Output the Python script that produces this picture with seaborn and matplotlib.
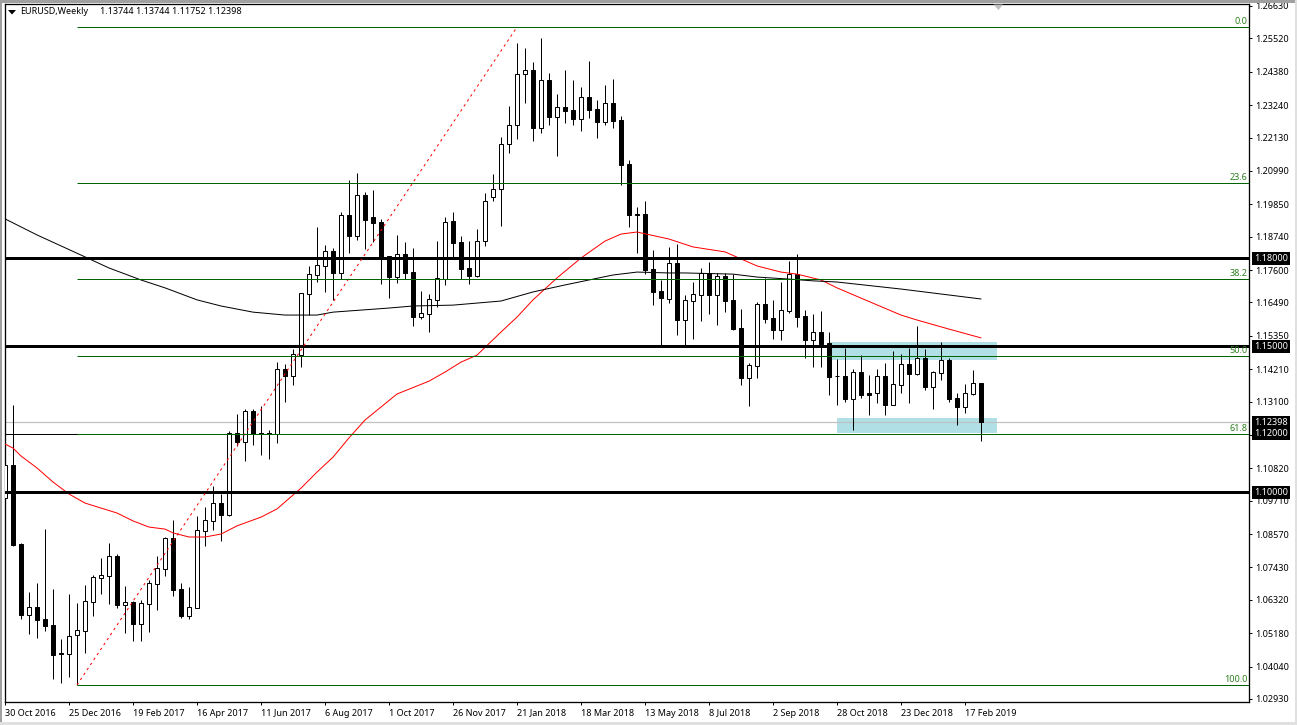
#!/usr/bin/python3
'''
EURUSD weekly candles with moving averages, fibs and levels.
'''

from matplotlib import patches
from matplotlib import pyplot
import numpy
import pandas
import seaborn

opens = [1.0980, 1.1093, 1.0823, 1.0580, 1.0608, 1.0567, 1.0546, 1.0450, 1.0447, 1.0512,
         1.0525, 1.0625, 1.0706, 1.0714, 1.0782, 1.0615, 1.0625, 1.0549, 1.0618, 1.0687,
         1.0737, 1.0844, 1.0669, 1.0577, 1.0604, 1.0868, 1.0902, 1.0963, 1.0922, 1.1203,
         1.1172, 1.1278, 1.1203, 1.1203, 1.1199, 1.1422, 1.1398, 1.1469, 1.1678, 1.1743,
         1.1774, 1.1825, 1.1750, 1.1948, 1.1876, 1.2017, 1.1941, 1.1924, 1.1808, 1.1736,
         1.1815, 1.1753, 1.1599, 1.1609, 1.1658, 1.1729, 1.1928, 1.1856, 1.1767, 1.1740,
         1.1859, 1.2010, 1.2037, 1.2191, 1.2256, 1.2430, 1.2444, 1.2246, 1.2410, 1.2283,
         1.2318, 1.2307, 1.2276, 1.2352, 1.2311, 1.2266, 1.2331, 1.2273, 1.2123, 1.1951,
         1.1951, 1.1763, 1.1688, 1.1661, 1.1784, 1.1589, 1.1654, 1.1675, 1.1750, 1.1675,
         1.1740, 1.1658, 1.1562, 1.1391, 1.1432, 1.1644, 1.1596, 1.1555, 1.1620, 1.1746,
         1.1603, 1.1521, 1.1548, 1.1510, 1.1398, 1.1398, 1.1319, 1.1411, 1.1340, 1.1340,
         1.1398, 1.1298, 1.1367, 1.1439, 1.1404, 1.1459, 1.1360, 1.1408, 1.1452, 1.1322,
         1.1292, 1.1336, 1.13744]
highs = [1.1138, 1.1298, 1.0826, 1.0659, 1.0690, 1.0874, 1.0669, 1.0498, 1.0652, 1.0621,
         1.0683, 1.0717, 1.0775, 1.0826, 1.0789, 1.0680, 1.0628, 1.0632, 1.0700, 1.0782,
         1.0847, 1.0905, 1.0690, 1.0676, 1.0919, 1.0950, 1.1021, 1.0994, 1.1210, 1.1268,
         1.1285, 1.1285, 1.1295, 1.1213, 1.1445, 1.1439, 1.1490, 1.1681, 1.1774, 1.1907,
         1.1846, 1.1835, 1.1958, 1.2068, 1.2092, 1.2027, 1.2034, 1.1934, 1.1808, 1.1880,
         1.1856, 1.1835, 1.1688, 1.1678, 1.1859, 1.1941, 1.1958, 1.1876, 1.1859, 1.1900,
         1.2023, 1.2088, 1.2215, 1.2321, 1.2536, 1.2519, 1.2471, 1.2554, 1.2434, 1.2362,
         1.2444, 1.2410, 1.2386, 1.2475, 1.2342, 1.2393, 1.2413, 1.2287, 1.2136, 1.1976,
         1.1996, 1.1829, 1.1726, 1.1839, 1.1849, 1.1675, 1.1719, 1.1767, 1.1787, 1.1750,
         1.1750, 1.1746, 1.1627, 1.1442, 1.1651, 1.1733, 1.1658, 1.1719, 1.1791, 1.1815,
         1.1623, 1.1609, 1.1620, 1.1548, 1.1456, 1.1493, 1.1422, 1.1469, 1.1401, 1.1422,
         1.1442, 1.1483, 1.1473, 1.1493, 1.1569, 1.1490, 1.1415, 1.1514, 1.1459, 1.1340,
         1.1370, 1.1418, 1.13744]
lows = [1.0932, 1.0816, 1.0567, 1.0515, 1.0502, 1.0525, 1.0361, 1.0348, 1.0368, 1.0341,
        1.0450, 1.0577, 1.0652, 1.0618, 1.0604, 1.0519, 1.0491, 1.0491, 1.0522, 1.0597,
        1.0714, 1.0645, 1.0570, 1.0567, 1.0604, 1.0816, 1.0871, 1.0833, 1.0919, 1.1158,
        1.1107, 1.1162, 1.1127, 1.1113, 1.1168, 1.1309, 1.1367, 1.1428, 1.1606, 1.1719,
        1.1685, 1.1658, 1.1729, 1.1818, 1.1863, 1.1832, 1.1856, 1.1712, 1.1664, 1.1716,
        1.1729, 1.1569, 1.1592, 1.1548, 1.1634, 1.1709, 1.1805, 1.1729, 1.1712, 1.1736,
        1.1842, 1.1996, 1.1911, 1.2160, 1.2208, 1.2331, 1.2201, 1.2229, 1.2256, 1.2150,
        1.2263, 1.2256, 1.2235, 1.2280, 1.2212, 1.2256, 1.2246, 1.2051, 1.1907, 1.1818,
        1.1746, 1.1640, 1.1500, 1.1647, 1.1538, 1.1500, 1.1524, 1.1586, 1.1610, 1.1572,
        1.1616, 1.1555, 1.1367, 1.1295, 1.1391, 1.1579, 1.1524, 1.1521, 1.1613, 1.1565,
        1.1459, 1.1428, 1.1428, 1.1333, 1.1298, 1.1309, 1.1213, 1.1322, 1.1264, 1.1305,
        1.1264, 1.1298, 1.1340, 1.1305, 1.1401, 1.1350, 1.1285, 1.1384, 1.1309, 1.1230,
        1.1271, 1.1333, 1.11752]
closes = [1.1093, 1.0820, 1.0580, 1.0608, 1.0563, 1.0543, 1.0443, 1.0447, 1.0508, 1.0529,
          1.0628, 1.0710, 1.0717, 1.0782, 1.0615, 1.0625, 1.0549, 1.0621, 1.0690, 1.0741,
          1.0844, 1.0666, 1.0577, 1.0608, 1.0871, 1.0905, 1.0963, 1.0922, 1.1203, 1.1172,
          1.1278, 1.1199, 1.1199, 1.1199, 1.1422, 1.1398, 1.1473, 1.1681, 1.1746, 1.1777,
          1.1825, 1.1750, 1.1948, 1.1876, 1.2017, 1.1931, 1.1921, 1.1805, 1.1736, 1.1815,
          1.1750, 1.1599, 1.1613, 1.1661, 1.1733, 1.1924, 1.1852, 1.1763, 1.1740, 1.1859,
          1.1996, 1.2037, 1.2191, 1.2256, 1.2430, 1.2444, 1.2246, 1.2410, 1.2283, 1.2318,
          1.2304, 1.2276, 1.2352, 1.2307, 1.2266, 1.2331, 1.2270, 1.2119, 1.1948, 1.1948,
          1.1760, 1.1685, 1.1664, 1.1784, 1.1589, 1.1658, 1.1678, 1.1750, 1.1675, 1.1740,
          1.1654, 1.1558, 1.1391, 1.1435, 1.1644, 1.1592, 1.1555, 1.1623, 1.1746, 1.1599,
          1.1521, 1.1548, 1.1507, 1.1394, 1.1396, 1.1319, 1.1411, 1.1333, 1.1333, 1.1398,
          1.1298, 1.1370, 1.1439, 1.1404, 1.1459, 1.1360, 1.1411, 1.1452, 1.1319, 1.1292,
          1.1340, 1.1374, 1.12398]

red_ma_weeks = [0, 1, 2, 4, 6, 8, 10, 12, 14, 16, 18, 20, 21, 23, 25, 27, 29, 32, 34, 37,
                39, 41, 43, 45, 49, 53, 55, 57, 59, 62, 64, 66, 69, 72, 75, 77, 79, 83, 86, 90,
                92, 94, 97, 99, 102, 104, 107, 112, 114, 118, 122]
red_ma = [1.1165, 1.1151, 1.1124, 1.1083, 1.1035, 1.0994, 1.0963, 1.0946, 1.0929, 1.0902,
          1.0881, 1.0874, 1.0861, 1.0847, 1.0847, 1.0857, 1.0885, 1.0915, 1.0943, 1.1014,
          1.1069, 1.1120, 1.1186, 1.1247, 1.1336, 1.1380, 1.1411, 1.1445, 1.1469, 1.1548,
          1.1599, 1.1658, 1.1733, 1.1801, 1.1859, 1.1883, 1.1890, 1.1866, 1.1839, 1.1822,
          1.1798, 1.1774, 1.1753, 1.1746, 1.1726, 1.1699, 1.1664, 1.1606, 1.1589, 1.1558,
          1.1528]
black_ma_weeks = [0, 4, 10, 13, 17, 20, 24, 27, 31, 35, 39, 41, 48, 51, 56, 62, 66, 70, 73,
                  76, 79, 83, 85, 91, 94, 98, 101, 104, 112, 122]
black_ma = [1.1935, 1.1880, 1.1805, 1.1767, 1.1726, 1.1699, 1.1658, 1.1637, 1.1616, 1.1606,
            1.1606, 1.1616, 1.1630, 1.1637, 1.1640, 1.1654, 1.1685, 1.1709, 1.1726,
            1.1743, 1.1753, 1.1750, 1.1750, 1.1746, 1.1736, 1.1729, 1.1723, 1.1719,
            1.1695, 1.1661]

fib_labels = ['0.0', '23.6', '38.2', '50.0', '61.8', '100.0']
fib_prices = [1.2591, 1.2058, 1.1729, 1.1466, 1.1199, 1.0341]
fib_start_week = 9
trend_weeks = [9, 64]
trend_prices = [1.0341, 1.2591]

levels = [1.18, 1.15, 1.10]
level_marks = ['1.18000', '1.15000', '1.12398', '1.12000', '1.10000']
last_close = 1.12398
thin_level = 1.12

# (first week, last week, lower price, upper price)
zones = [(103.1, 124.0, 1.1452, 1.1514),
         (104.0, 124.0, 1.1203, 1.1254)]

date_ticks = list(range(0, 121, 8))
date_labels = ['30 Oct 2016', '25 Dec 2016', '19 Feb 2017', '16 Apr 2017',
               '11 Jun 2017', '6 Aug 2017', '1 Oct 2017', '26 Nov 2017',
               '21 Jan 2018', '18 Mar 2018', '13 May 2018', '8 Jul 2018',
               '2 Sep 2018', '28 Oct 2018', '23 Dec 2018', '17 Feb 2019']
price_ticks = [1.26630, 1.25520, 1.24380, 1.23240, 1.22130, 1.20990, 1.19850, 1.18740,
               1.17600, 1.16490, 1.15350, 1.14210, 1.13100, 1.11960, 1.10820, 1.09710,
               1.08570, 1.07430, 1.06320, 1.05180, 1.04040, 1.02930]

WIDTH, HEIGHT = 1297, 725
PX = 0.72  # one pixel in points at dpi 100
GREEN = '#006400'
FONT = 6.5


def figx(x):
    return x / WIDTH


def figy(y):
    return 1 - y / HEIGHT


def frame_bar(fig, x0, y0, x1, y1, color):
    fig.add_artist(patches.Rectangle((figx(x0), figy(y1)),
                                     (x1 - x0) / WIDTH, (y1 - y0) / HEIGHT,
                                     transform = fig.transFigure,
                                     facecolor = color, edgecolor = 'none'))


def plot_candles(ax, candles):
    up = candles['close'] > candles['open']
    ax.vlines(candles['week'], candles['low'], candles['high'],
              color = 'black', linewidth = PX, zorder = 3)
    ax.bar(candles['week'],
           (candles['close'] - candles['open']).abs(),
           bottom = candles[['open', 'close']].min(axis = 1),
           width = 0.5,
           color = numpy.where(up, 'white', 'black'),
           edgecolor = 'black',
           linewidth = PX,
           zorder = 4)


if __name__ == '__main__':
    seaborn.set_style('white')
    pyplot.rcParams['font.family'] = ['Noto Sans', 'DejaVu Sans']

    candles = pandas.DataFrame({'week': range(len(opens)),
                                'open': opens,
                                'high': highs,
                                'low': lows,
                                'close': closes})

    fig = pyplot.figure(figsize = (WIDTH / 100, HEIGHT / 100), dpi = 100)
    ax = fig.add_axes([figx(5), figy(702), (1249 - 5) / WIDTH, (702 - 4) / HEIGHT])
    ax.set_xlim(0, 155.5)
    ax.set_ylim(1.02827, 1.26698)

    for (x0, x1, y0, y1) in zones:
        ax.add_patch(patches.Rectangle((x0, y0), x1 - x0, y1 - y0,
                                       facecolor = '#b0e0e6', edgecolor = 'none',
                                       zorder = 1))
    ax.axhline(last_close, color = '#c0c0c0', linewidth = PX * 1.2, zorder = 2)
    ax.axhline(thin_level, color = 'black', linewidth = PX, zorder = 2)

    plot_candles(ax, candles)

    seaborn.lineplot(x = red_ma_weeks, y = red_ma, color = 'red', linewidth = PX,
                     estimator = None, sort = False, ax = ax, zorder = 5)
    seaborn.lineplot(x = black_ma_weeks, y = black_ma, color = 'black', linewidth = PX,
                     estimator = None, sort = False, ax = ax, zorder = 5)

    for level in levels:
        ax.axhline(level, color = 'black', linewidth = PX * 3, zorder = 6)
    ax.plot(trend_weeks, trend_prices, color = 'red', linewidth = PX,
            linestyle = (0, (2.5, 3.5)), zorder = 6)
    ax.hlines(fib_prices, fib_start_week, 155.5, color = GREEN, linewidth = PX, zorder = 6)
    for (label, price) in zip(fib_labels, fib_prices):
        ax.annotate(label, xy = (1, price), xycoords = ('axes fraction', 'data'),
                    xytext = (-1, 1), textcoords = 'offset points',
                    ha = 'right', va = 'bottom', fontsize = FONT, color = '#2f7f20',
                    zorder = 7)

    for spine in ax.spines.values():
        spine.set_color('black')
        spine.set_linewidth(PX * 1.3)
    ax.set_xticks(date_ticks)
    ax.set_xticklabels(date_labels, ha = 'left', fontsize = FONT, color = 'black')
    ax.tick_params(axis = 'x', bottom = True, length = 2.2, width = PX, pad = 2.5,
                   color = 'black')
    ax.yaxis.tick_right()
    ax.set_yticks(price_ticks)
    ax.set_yticklabels(['{:.5f}'.format(p) for p in price_ticks],
                       fontsize = FONT, color = 'black')
    ax.tick_params(axis = 'y', right = True, length = 2.2, width = PX, pad = 2.2,
                   color = 'black')

    # Boxed price marks cover the tick labels.
    for mark in level_marks:
        ax.annotate(mark, xy = (1, float(mark)), xycoords = ('axes fraction', 'data'),
                    xytext = (3.8, 0), textcoords = 'offset points',
                    ha = 'left', va = 'center', fontsize = FONT, color = 'white',
                    bbox = dict(boxstyle = 'square,pad=0.22', facecolor = 'black',
                                edgecolor = 'black', linewidth = 0),
                    annotation_clip = False, zorder = 10)

    # Terminal window: header, arrows and border.
    fig.text(figx(20), figy(12), 'EURUSD,Weekly', fontsize = FONT, va = 'center',
             color = 'black')
    fig.text(figx(99.5), figy(12), '1.13744 1.13744 1.11752 1.12398', fontsize = FONT,
             va = 'center', color = 'black')
    fig.add_artist(patches.Polygon([(figx(8), figy(10)), (figx(16), figy(10)),
                                    (figx(12), figy(14.5))],
                                   transform = fig.transFigure,
                                   facecolor = 'black', edgecolor = 'none'))
    fig.add_artist(patches.Polygon([(figx(993.5), figy(4.5)), (figx(1003), figy(4.5)),
                                    (figx(998.5), figy(10))],
                                   transform = fig.transFigure,
                                   facecolor = '#c0c0c0', edgecolor = 'none'))
    frame_bar(fig, 0, 0, WIDTH, 2.5, '#a0a0a0')
    frame_bar(fig, 0, 0, 2, HEIGHT, '#a0a0a0')
    frame_bar(fig, 1295, 0, WIDTH, HEIGHT, '#e0e0e0')
    frame_bar(fig, 0, 722, WIDTH, HEIGHT, '#e0e0e0')

    fig.savefig('out.png', dpi = 100)
